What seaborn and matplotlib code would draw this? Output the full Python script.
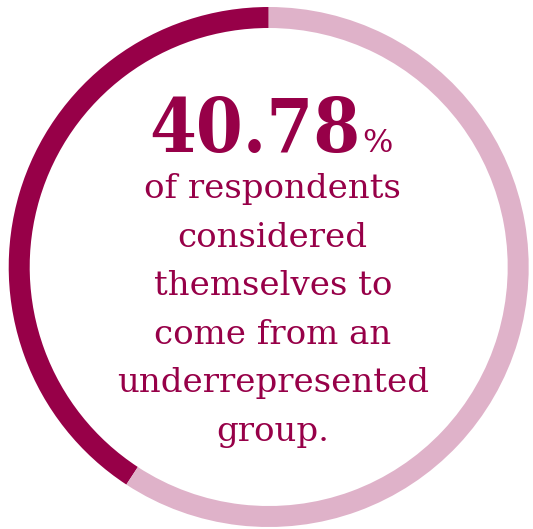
import matplotlib
matplotlib.use("Agg")
import matplotlib.pyplot as plt
import seaborn as sns

# Data
labels = ["Underrepresented", "Not underrepresented"]
shares = [40.78, 59.22]
colors = ["#970048", "#dfb2c9"]
headline = "40.78"
caption_lines = ["of respondents", "considered", "themselves to",
                 "come from an", "underrepresented", "group."]

sns.set_theme(style="white")
plt.rcParams["font.family"] = ["DejaVu Serif"]

W, H = 533, 529
fig = plt.figure(figsize=(W / 100, H / 100), dpi=100)
fig.patch.set_facecolor("white")
ax = fig.add_axes([0, 0, 1, 1])

cx, cy, r = 268.7, H - 267, 260
ax.pie(shares, colors=colors, startangle=90, counterclock=True,
       radius=r, center=(cx, cy),
       wedgeprops=dict(width=21, linewidth=0), frame=True)
ax.set_xlim(0, W)
ax.set_ylim(0, H)
ax.set_aspect("equal")
ax.axis("off")

dark = colors[0]
ax.text(360, H - 152, headline, ha="right", va="baseline",
        fontsize=54, fontweight="bold", fontstretch="condensed", color=dark)
ax.text(362, H - 152, "%", ha="left", va="baseline",
        fontsize=23, fontweight="normal", color=dark)

base = 198
for i, line in enumerate(caption_lines):
    ax.text(cx + 4, H - (base + 48.6 * i), line, ha="center", va="baseline",
            fontsize=24.5, color=dark)

fig.savefig("out.png", dpi=100, facecolor="white")
